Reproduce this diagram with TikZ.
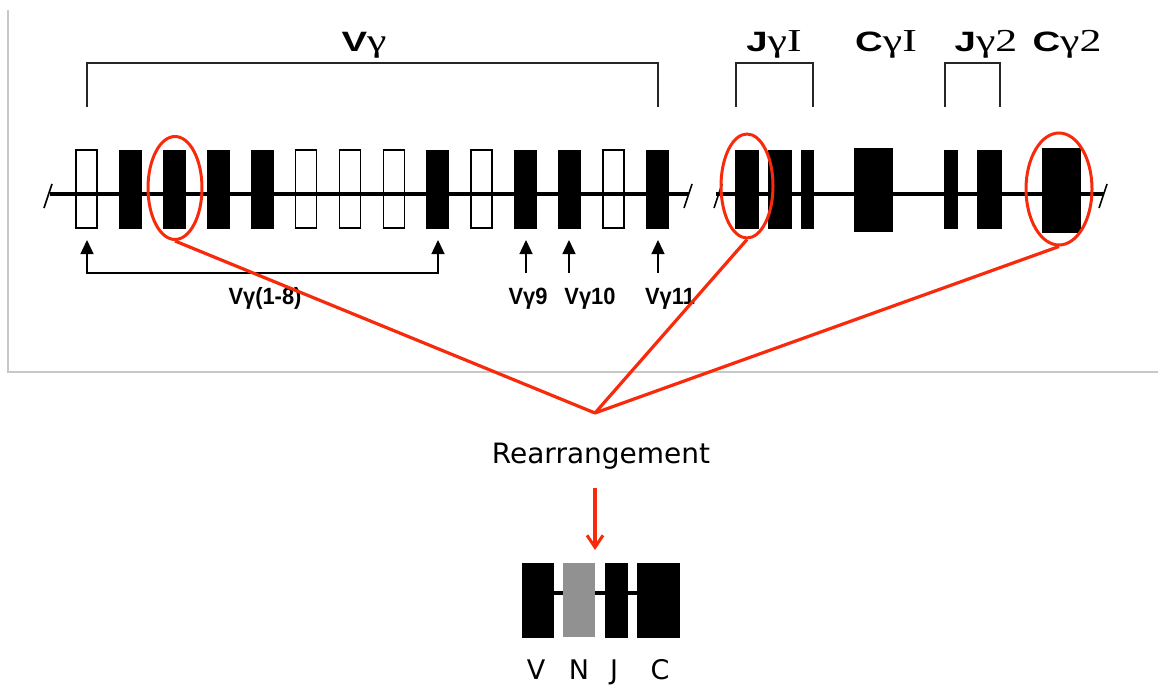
\documentclass[tikz,border=0pt]{standalone}
\usepackage{fontspec}
\usetikzlibrary{arrows.meta,shapes.geometric}
\newfontfamily\lsans{Liberation Sans}
\newfontfamily\lserif{Liberation Serif}
\newfontfamily\djv{DejaVu Sans}
\definecolor{redl}{RGB}{248,42,12}
\definecolor{framegray}{RGB}{200,200,200}
\definecolor{ngray}{RGB}{145,145,145}
\newcommand\toplab[2]{\scalebox{1.37}[1]{{\lsans\bfseries\fontsize{28}{30}\selectfont #1}{\lserif\fontsize{32}{34}\selectfont γ#2}}}
\newcommand\botlab[1]{\scalebox{0.93}[1]{#1}}
\tikzset{
  fbox/.style={rectangle, draw=black, fill=black, line width=0.8pt, inner sep=0pt, minimum height=78pt},
  obox/.style={rectangle, draw=black, line width=1.4pt, inner sep=0pt, minimum height=78pt, minimum width=21pt},
  bracket/.style={draw=black!85, line width=1.5pt},
  dna/.style={draw=black, line width=3.8pt},
  slash/.style={draw=black, line width=1.6pt},
  redell/.style={ellipse, draw=redl, line width=3pt, inner sep=0pt},
  redline/.style={draw=redl, line width=3.2pt},
  uparrow/.style={draw=black, line width=1.4pt, -{Triangle[length=14pt,width=13pt]}},
  toplabel/.style={anchor=base, inner sep=0pt},
  botlabel/.style={anchor=base, inner sep=0pt, font=\lsans\bfseries\fontsize{23.5}{26}\selectfont},
  djlabel/.style={anchor=base, inner sep=0pt, font=\djv\fontsize{28}{32}\selectfont},
  gllabel/.style={anchor=base, inner sep=0pt, font=\djv\fontsize{27}{30}\selectfont},
}
\begin{document}
\begin{tikzpicture}[x=1pt,y=-1pt]
\useasboundingbox (0,0) rectangle (1158,687);
% frame
\draw[framegray, line width=1.3pt] (8,10) -- (8,372) -- (1158,372);

% main DNA lines
\coordinate (l0) at (50,194);
\coordinate (l1) at (689,194);
\coordinate (r0) at (716,194);
\coordinate (r1) at (1104,194);
\draw[dna] (l0) -- (l1);
\draw[dna] (r0) -- (r1);
\draw[slash] (44,208) -- (52,184);
\draw[slash] (684,208) -- (692,184);
\draw[slash] (714,208) -- (722,184);
\draw[slash] (1099,208) -- (1107,184);

% V boxes
\foreach \i/\t in {1/o,2/f,3/f,4/f,5/f,6/o,7/o,8/o,9/f,10/o,11/f,12/f,13/o,14/f}{
  \pgfmathsetmacro{\xc}{86.5+43.9*(\i-1)}
  \if\t f
    \node[fbox, minimum width=22pt] (v\i) at (\xc,189) {};
  \else
    \node[obox] (v\i) at (\xc,189) {};
  \fi
}
% J and C boxes
\node[fbox, minimum width=23pt] (j1a) at (746.5,189.5) {};
\node[fbox, minimum width=23pt] (j1b) at (779.5,189.5) {};
\node[fbox, minimum width=12pt] (j1c) at (807,189.5) {};
\node[fbox, minimum width=38pt, minimum height=83pt] (c1) at (873,189.5) {};
\node[fbox, minimum width=13pt] (j2a) at (950.5,189.5) {};
\node[fbox, minimum width=24pt] (j2b) at (989,189.5) {};
\node[fbox, minimum width=38pt, minimum height=84pt] (c2) at (1061,190) {};

% top brackets
\draw[bracket] (87,107) -- (87,63) -- (658,63) -- (658,107);
\draw[bracket] (736,107) -- (736,63) -- (813,63) -- (813,107);
\draw[bracket] (945,107) -- (945,63) -- (1000,63) -- (1000,107);

% top labels
\node[toplabel] (lv) at (364,52) {\toplab{V}{}};
\node[toplabel] (lj1) at (774,52) {\toplab{J}{I}};
\node[toplabel] (lc1) at (886,52) {\toplab{C}{I}};
\node[toplabel] (lj2) at (986,52) {\toplab{J}{2}};
\node[toplabel] (lc2) at (1067,52) {\toplab{C}{2}};

% bottom arrows
\coordinate (a1) at (87,240);
\coordinate (a8) at (438,240);
\coordinate (amid) at (262,273);
\draw[draw=black, line width=1.4pt, {Triangle[length=14pt,width=13pt]}-{Triangle[length=14pt,width=13pt]}] (a1) |- (amid) -| (a8);
\coordinate (a9t) at (526,240);   \coordinate (a9b) at (526,273);
\coordinate (a10t) at (569,240);  \coordinate (a10b) at (569,273);
\coordinate (a11t) at (658,240);  \coordinate (a11b) at (658,273);
\draw[uparrow] (a9b) -- (a9t);
\draw[uparrow] (a10b) -- (a10t);
\draw[uparrow] (a11b) -- (a11t);

\node[botlabel] (l18) at (265,304) {\botlab{Vγ(1-8)}};
\node[botlabel] (l9) at (528,304) {\botlab{Vγ9}};
\node[botlabel] (l10) at (590,304) {\botlab{Vγ10}};
\node[botlabel] (l11) at (670,304) {\botlab{Vγ11}};

% red ellipses
\node[redell, minimum width=54pt, minimum height=103pt] (e1) at (175,188) {};
\node[redell, minimum width=52pt, minimum height=104pt] (e2) at (747,186) {};
\node[redell, minimum width=66pt, minimum height=112pt] (e3) at (1059,189) {};

\coordinate (conv) at (595,413);
\draw[redline, line join=round] (e1.south) -- (conv) -- (e2.south);
\draw[redline, line join=round] (conv) -- (e3.south);

% rearrangement
\node[djlabel] (rear) at (601,463) {Rearrangement};
\coordinate (ar0) at (595,488);
\coordinate (ar1) at (595,550);
\draw[redline, -{Straight Barb[length=12pt,width=16pt,line width=3pt]}] (ar0) -- (ar1);

% rearranged gene
\draw[draw=black, line width=4.5pt] (537,593) -- (658,593);
\node[fbox, minimum width=31pt, minimum height=74pt, line width=0pt] (gv) at (537.5,600) {};
\node[rectangle, fill=ngray, inner sep=0pt, minimum width=32pt, minimum height=74pt] (gn) at (579,600) {};
\node[fbox, minimum width=22pt, minimum height=74pt, line width=0pt] (gj) at (616,600) {};
\node[fbox, minimum width=42pt, minimum height=74pt, line width=0pt] (gc) at (658,600) {};

\node[gllabel] (tv) at (536,679) {V};
\node[gllabel] (tn) at (579,679) {N};
\node[gllabel] (tj) at (614,679) {J};
\node[gllabel] (tc) at (660,679) {C};
\end{tikzpicture}
\end{document}
